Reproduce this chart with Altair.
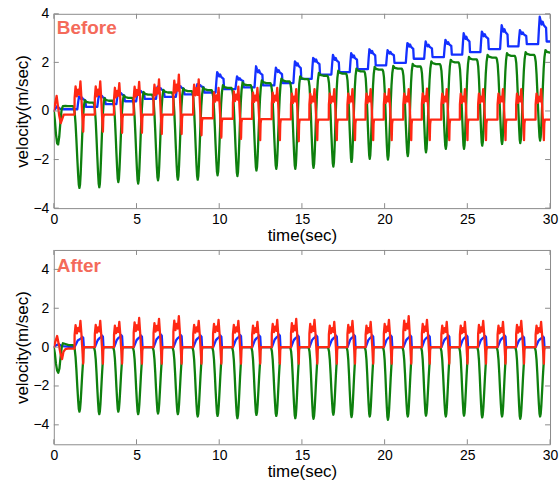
import altair as alt
import pandas as pd

# ---------------------------------------------------------------------------
# Timing: instants of the green-trace minima (s). Cycle k is centred on T_MIN[k]
# ---------------------------------------------------------------------------
T_MIN = [0.25, 1.55, 2.75, 3.9, 5.1, 6.3, 7.5, 8.7, 9.9, 11.1, 12.25, 13.45,
         14.6, 15.7, 16.9, 18.0, 19.1, 20.2, 21.4, 22.5, 23.7, 24.8, 25.9,
         27.1, 28.2, 29.4]
T_END = 30.0

# ---------------------------------------------------------------------------
# "Before" panel: per-cycle extremes (cycles 1..25) and per-gap levels (gaps 0..25)
# ---------------------------------------------------------------------------
GREEN_MIN_B = [-3.17, -3.14, -2.93, -2.99, -2.86, -2.83, -2.83, -2.65, -2.68,
               -2.45, -2.38, -2.38, -2.34, -2.29, -2.10, -1.97, -2.00, -1.86,
               -1.70, -1.56, -1.56, -1.43, -1.36, -1.32, -1.22]
GREEN_TOP_B = [0.20, 0.34, 0.42, 0.54, 0.67, 0.76, 0.82, 0.86, 0.95, 1.06,
               1.15, 1.22, 1.31, 1.45, 1.54, 1.63, 1.70, 1.74, 1.83, 1.93,
               2.00, 2.12, 2.20, 2.27, 2.31, 2.40]
BLUE_BASE_B = [0.07, 0.17, 0.28, 0.40, 0.50, 0.58, 0.68, 0.76, 0.90, 0.97,
               1.05, 1.15, 1.32, 1.50, 1.60, 1.72, 1.88, 1.98, 2.15, 2.22,
               2.32, 2.42, 2.55, 2.66, 2.75, 2.86]
BLUE_PEAK_B = [0.60, 0.65, 0.75, 0.85, 1.00, 1.05, 1.10, 1.60, 1.42, 1.84,
               1.78, 2.04, 2.18, 2.31, 2.38, 2.54, 2.50, 2.79, 2.86, 2.93,
               3.20, 3.27, 3.53, 3.33, 3.88]
RED_BASE_B = [-0.15, -0.15, -0.15, -0.15, -0.15, -0.15, -0.15, -0.30, -0.32,
              -0.33, -0.34, -0.35, -0.36, -0.36, -0.36, -0.36, -0.36, -0.36,
              -0.36, -0.36, -0.36, -0.36, -0.36, -0.36, -0.36, -0.36]
RED_HI_B = [1.22, 1.22, 1.15, 1.20, 1.30, 1.50, 1.30, 0.95, 1.00, 0.95, 0.95,
            0.90, 0.90, 0.90, 0.90, 0.90, 0.90, 0.90, 0.92, 0.90, 0.90, 0.90,
            0.90, 0.90, 0.90]
RED_LO_B = [-0.85, -0.85, -0.90, -0.90, -0.95, -0.95, -1.00, -1.10, -1.15,
            -1.20, -1.20, -1.25, -1.20, -1.20, -1.20, -1.20, -1.20, -1.20,
            -1.20, -1.20, -1.20, -1.20, -1.20, -1.20, -1.20]

# start-up transient (t < 0.9 s)
START_T_GREEN_B = [0.0, 0.06, 0.13, 0.2, 0.26, 0.33, 0.4, 0.47, 0.55, 0.7, 0.85]
START_V_GREEN_B = [0.0, -0.35, -0.95, -1.33, -1.38, -1.05, -0.45, 0.05, 0.2, 0.21, 0.2]
START_T_BLUE_B = [0.0, 0.1, 0.2, 0.35, 0.55, 0.85]
START_V_BLUE_B = [0.0, 0.1, 0.2, 0.1, 0.07, 0.07]
START_T_RED_B = [0.0, 0.08, 0.17, 0.25, 0.33, 0.42, 0.5, 0.6, 0.85]
START_V_RED_B = [0.0, 0.3, 0.62, 0.2, -0.2, -0.5, -0.35, -0.15, -0.15]

# ---------------------------------------------------------------------------
# "After" panel
# ---------------------------------------------------------------------------
GREEN_MIN_A = [-3.32, -3.45, -3.32, -3.45, -3.42, -3.45, -3.57, -3.54, -3.66,
               -3.49, -3.54, -3.66, -3.69, -3.48, -3.60, -3.57, -3.74, -3.57,
               -3.53, -3.57, -3.53, -3.62, -3.57, -3.69, -3.57]
GREEN_TOP_A = [0.10] + [0.0] * 25
BLUE_BASE_A = [0.02] + [0.0] * 25
BLUE_PEAK_A = [0.55, 0.60, 0.62, 0.60, 0.65, 0.62, 0.60, 0.60, 0.62, 0.60,
               0.65, 0.60, 0.60, 0.60, 0.62, 0.60, 0.60, 0.60, 0.60, 0.60,
               0.60, 0.58, 0.60, 0.55, 0.55]
RED_BASE_A = [-0.08] + [0.0] * 25
RED_HI_A = [1.35, 1.35, 1.30, 1.50, 1.45, 1.60, 1.35, 1.40, 1.35, 1.30, 1.40,
            1.45, 1.40, 1.30, 1.35, 1.30, 1.40, 1.60, 1.40, 1.30, 1.30, 1.35,
            1.30, 1.35, 1.30]
RED_LO_A = [-0.85] * 25

START_T_GREEN_A = [0.0, 0.06, 0.13, 0.2, 0.27, 0.34, 0.41, 0.48, 0.55, 0.7, 0.85]
START_V_GREEN_A = [0.0, -0.3, -0.85, -1.2, -1.32, -1.1, -0.5, 0.0, 0.2, 0.16, 0.12]
START_T_BLUE_A = [0.0, 0.15, 0.3, 0.5, 0.85]
START_V_BLUE_A = [0.0, 0.1, 0.15, 0.05, 0.02]
START_T_RED_A = [0.0, 0.1, 0.2, 0.3, 0.4, 0.5, 0.58, 0.7, 0.85]
START_V_RED_A = [0.0, 0.3, 0.57, 0.15, -0.3, -0.62, -0.25, -0.1, -0.08]

# ---------------------------------------------------------------------------
# Single-cycle waveform shapes, phase u in [-0.5, 0.5] around a green minimum
# ---------------------------------------------------------------------------
U_GREEN_B = [-0.5, -0.3, -0.26, -0.22, -0.18, -0.14, -0.10, -0.06, -0.03, 0.0,
             0.03, 0.06, 0.10, 0.14, 0.18, 0.22, 0.27, 0.34, 0.5]
S_GREEN_B = [1.0, 1.0, 0.98, 0.92, 0.78, 0.58, 0.36, 0.16, 0.04, 0.0,
             0.04, 0.16, 0.38, 0.62, 0.82, 0.95, 1.03, 1.01, 1.0]
U_GREEN_A = [-0.5, -0.3, -0.26, -0.22, -0.18, -0.14, -0.10, -0.06, -0.03, 0.0,
             0.03, 0.06, 0.10, 0.14, 0.18, 0.19, 0.5]
S_GREEN_A = [1.0, 1.0, 0.99, 0.94, 0.82, 0.62, 0.38, 0.17, 0.04, 0.0,
             0.04, 0.15, 0.36, 0.58, 0.77, 1.0, 1.0]
U_BLUE_B = [-0.5, -0.10, -0.06, -0.02, 0.03, 0.08, 0.13, 0.18, 0.24, 0.30,
            0.33, 0.5]
S_BLUE_B = [0.0, 0.0, 0.55, 1.0, 0.75, 0.62, 0.72, 0.6, 0.55, 0.5, 0.0, 0.0]
U_BLUE_A = [-0.5, -0.22, -0.15, -0.08, 0.0, 0.08, 0.14, 0.19, 0.22, 0.5]
S_BLUE_A = [0.0, 0.0, 0.3, 0.6, 0.75, 0.85, 1.0, 0.9, 0.0, 0.0]
U_RED = [-0.5, -0.23, -0.225, -0.18, -0.12, -0.06, 0.0, 0.05, 0.10, 0.15,
         0.19, 0.21, 0.24, 0.5]
S_RED = [0.0, 0.0, 0.5, 0.85, 0.55, 0.75, 0.6, 1.0, 0.5, -0.2, -1.0, -0.2,
         0.0, 0.0]

X_TICKS = [0, 5, 10, 15, 20, 25, 30]
Y_TICKS = [-4, -2, 0, 2, 4]

COLORS = {"blue": "#1430FF", "green": "#0E800E", "red": "#FF2814"}
FRAME = "#8c8c8c"
W, H = 498, 195


def trace(start_t, start_v, u_knots, shape, level, extreme, combine):
    ts, vs = list(start_t), list(start_v)
    n = len(T_MIN) - 1
    for k in range(1, n + 1):
        tc = T_MIN[k]
        left = (T_MIN[k - 1] + tc) / 2
        right = (tc + T_MIN[k + 1]) / 2 if k < n else T_END
        for u, s in zip(u_knots, shape):
            if u >= 0.5 and k < n:
                continue
            if u < 0:
                t = tc + u / 0.5 * (tc - left)
                lvl = level[k - 1]
            else:
                t = tc + u / 0.5 * (right - tc)
                lvl = level[k]
            ts.append(t)
            vs.append(combine(lvl, level[k - 1], extreme[k - 1], s))
    return ts, vs


def green_val(lvl, left, ext, s):
    return lvl + (ext - lvl) * (1 - s)


def blue_val(lvl, left, ext, s):
    return lvl + (ext - left) * s


def red_val(lvl, left, ext, s):
    hi, lo = ext
    return lvl + s * (hi - lvl) if s >= 0 else lvl + (-s) * (lo - lvl)


def panel_frame(series):
    rows = []
    for name, (ts, vs) in series.items():
        rows += [{"t": t, "v": v, "s": name} for t, v in zip(ts, vs)]
    return pd.DataFrame(rows)


before = panel_frame({
    "blue": trace(START_T_BLUE_B, START_V_BLUE_B, U_BLUE_B, S_BLUE_B,
                  BLUE_BASE_B, BLUE_PEAK_B, blue_val),
    "green": trace(START_T_GREEN_B, START_V_GREEN_B, U_GREEN_B, S_GREEN_B,
                   GREEN_TOP_B, GREEN_MIN_B, green_val),
    "red": trace(START_T_RED_B, START_V_RED_B, U_RED, S_RED,
                 RED_BASE_B, list(zip(RED_HI_B, RED_LO_B)), red_val),
})
after = panel_frame({
    "blue": trace(START_T_BLUE_A, START_V_BLUE_A, U_BLUE_A, S_BLUE_A,
                  BLUE_BASE_A, BLUE_PEAK_A, blue_val),
    "green": trace(START_T_GREEN_A, START_V_GREEN_A, U_GREEN_A, S_GREEN_A,
                   GREEN_TOP_A, GREEN_MIN_A, green_val),
    "red": trace(START_T_RED_A, START_V_RED_A, U_RED, S_RED,
                 RED_BASE_A, list(zip(RED_HI_A, RED_LO_A)), red_val),
})


def panel(df, ydom, label, label_y):
    xs = alt.Scale(domain=[0, 30], nice=False, zero=False)
    ys = alt.Scale(domain=ydom, nice=False, zero=False)
    xax = alt.Axis(values=X_TICKS, title="time(sec)", labelPadding=4,
                   titlePadding=1, labelFlush=False)
    yax = alt.Axis(values=Y_TICKS, title="velocity(m/sec)", labelPadding=5,
                   titlePadding=1, format="d")
    layers = []
    for name in ["blue", "green", "red"]:
        layers.append(
            alt.Chart(df[df.s == name]).mark_line(
                color=COLORS[name], strokeWidth=2.3, clip=True,
                strokeJoin="round", strokeCap="round")
            .encode(x=alt.X("t:Q", scale=xs, axis=xax),
                    y=alt.Y("v:Q", scale=ys, axis=yax),
                    order="t:Q")
        )
    xt = pd.DataFrame({"t": X_TICKS})
    yt = pd.DataFrame({"v": Y_TICKS})
    tick = dict(color=FRAME, strokeWidth=1)
    layers += [
        alt.Chart(xt).mark_rule(**tick).encode(
            x=alt.X("t:Q", scale=xs, axis=xax), y=alt.value(H), y2=alt.value(H - 5)),
        alt.Chart(xt).mark_rule(**tick).encode(
            x=alt.X("t:Q", scale=xs, axis=xax), y=alt.value(0), y2=alt.value(5)),
        alt.Chart(yt).mark_rule(**tick).encode(
            y=alt.Y("v:Q", scale=ys, axis=yax), x=alt.value(0), x2=alt.value(5)),
        alt.Chart(yt).mark_rule(**tick).encode(
            y=alt.Y("v:Q", scale=ys, axis=yax), x=alt.value(W - 5), x2=alt.value(W)),
        alt.Chart(pd.DataFrame({"label": [label]})).mark_text(
            align="left", baseline="alphabetic", font="Liberation Sans",
            fontSize=19, fontWeight="bold", color="#F46A5A")
        .encode(x=alt.value(3), y=alt.value(label_y), text="label:N"),
    ]
    return alt.layer(*layers).properties(width=W, height=H)


top = panel(before, [-4, 4], "Before", 20)
bottom = panel(after, [-5, 5], "After", 22)

chart = (
    alt.vconcat(top, bottom, spacing=42, bounds="flush")
    .properties(padding={"left": 13, "top": 5, "right": 0, "bottom": 0})
    .configure_view(stroke=FRAME, strokeWidth=1)
    .configure_axis(
        grid=False, domain=False, ticks=False,
        labelFont="Liberation Sans", labelFontSize=14, labelColor="#000000",
        titleFont="Liberation Sans", titleFontSize=17, titleFontWeight="normal",
        titleColor="#000000",
    )
)

chart.save("out.html", embed_options={"renderer": "svg", "actions": False})
